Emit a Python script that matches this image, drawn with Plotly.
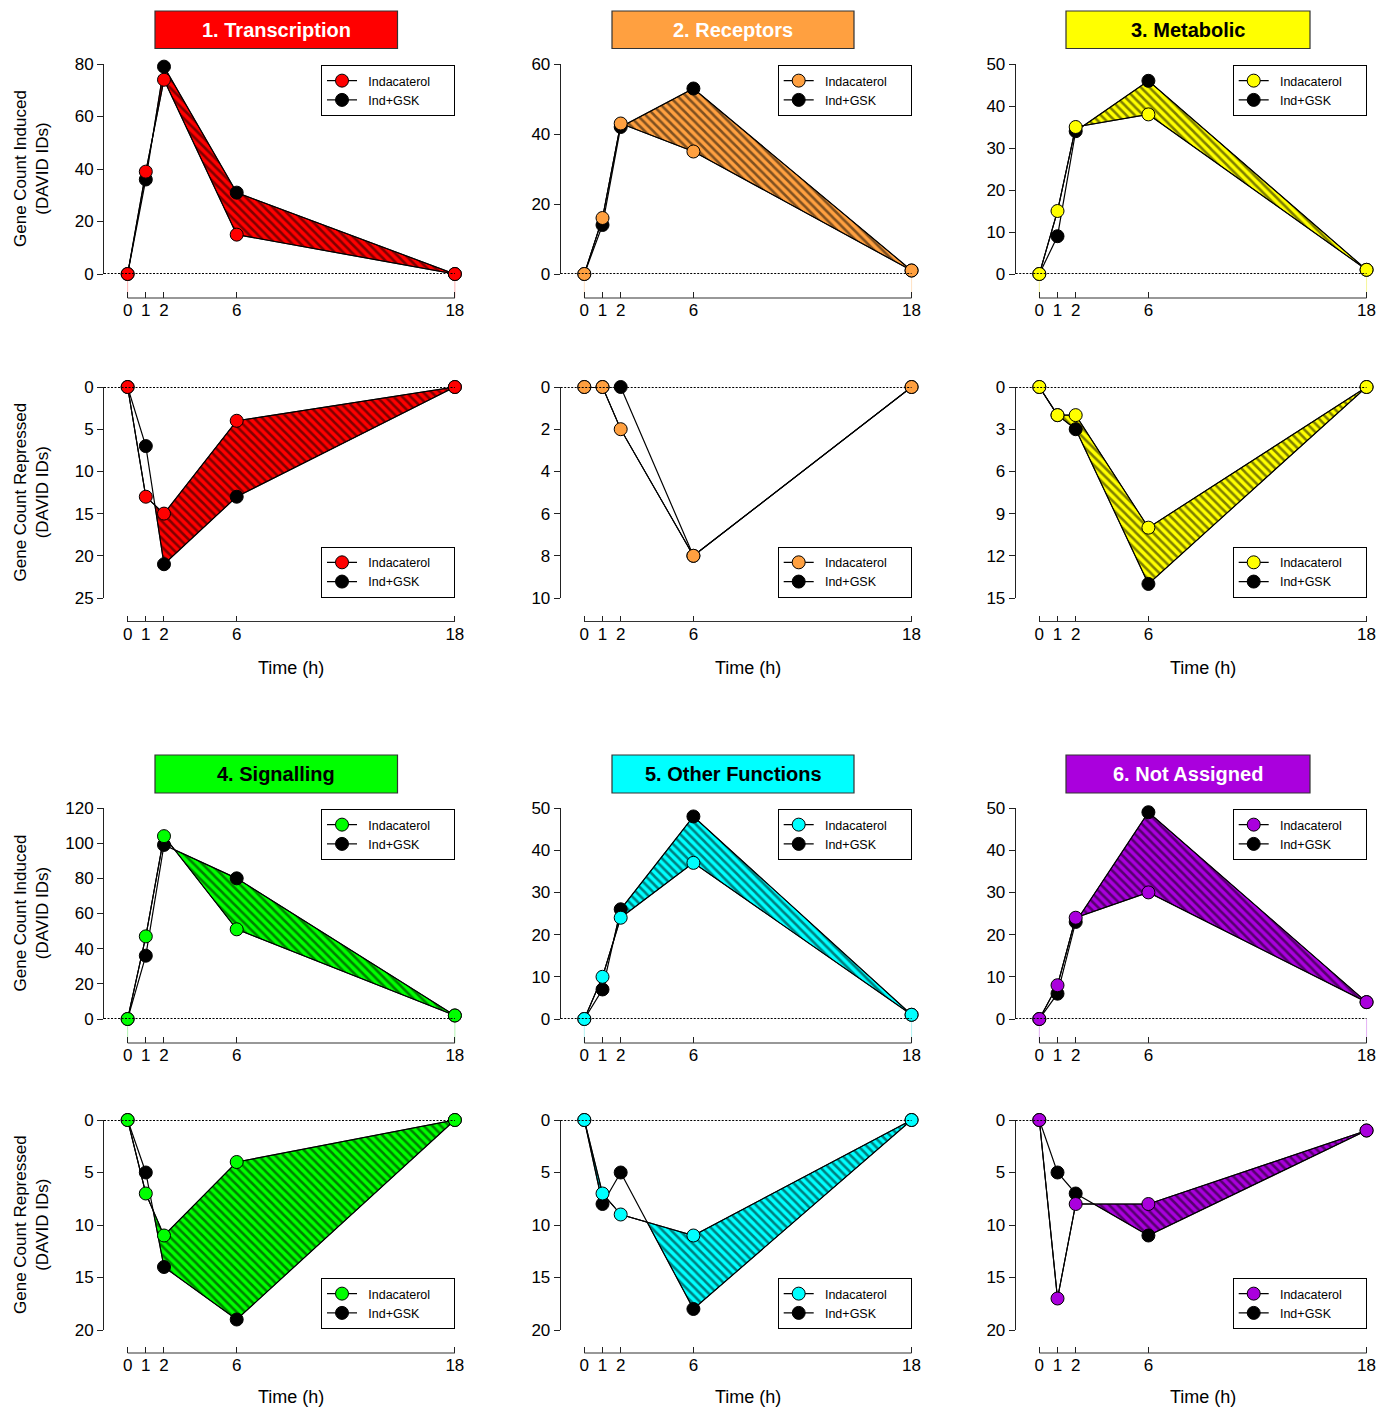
import plotly.graph_objects as go

# ---------------- data ----------------
time_h = [0, 1, 2, 6, 18]
categories = ["1. Transcription", "2. Receptors", "3. Metabolic",
              "4. Signalling", "5. Other Functions", "6. Not Assigned"]
cat_colors = ["#FF0000", "#FFA040", "#FFFF00", "#00FF00", "#00FFFF", "#AA00DD"]
cat_tints = ["rgba(255,0,0,0.3)", "rgba(255,160,64,0.3)", "rgba(230,230,0,0.4)",
             "rgba(0,220,0,0.3)", "rgba(0,220,220,0.3)", "rgba(170,0,221,0.3)"]
title_text_colors = ["white", "white", "black", "black", "black", "white"]
series_names = ["Indacaterol", "Ind+GSK"]

induced_indacaterol = [
    [0, 39, 74, 15, 0],
    [0, 16, 43, 35, 1],
    [0, 15, 35, 38, 1],
    [0, 47, 104, 51, 2],
    [0, 10, 24, 37, 1],
    [0, 8, 24, 30, 4],
]
induced_indgsk = [
    [0, 36, 79, 31, 0],
    [0, 14, 42, 53, 1],
    [0, 9, 34, 46, 1],
    [0, 36, 99, 80, 2],
    [0, 7, 26, 48, 1],
    [0, 6, 23, 49, 4],
]
repressed_indacaterol = [
    [0, 13, 15, 4, 0],
    [0, 0, 2, 8, 0],
    [0, 2, 2, 10, 0],
    [0, 7, 11, 4, 0],
    [0, 7, 9, 11, 0],
    [0, 17, 8, 8, 1],
]
repressed_indgsk = [
    [0, 7, 21, 13, 0],
    [0, 0, 0, 8, 0],
    [0, 2, 3, 14, 0],
    [0, 5, 14, 19, 0],
    [0, 8, 5, 18, 0],
    [0, 5, 7, 11, 1],
]
induced_yticks = [
    [0, 20, 40, 60, 80],
    [0, 20, 40, 60],
    [0, 10, 20, 30, 40, 50],
    [0, 20, 40, 60, 80, 100, 120],
    [0, 10, 20, 30, 40, 50],
    [0, 10, 20, 30, 40, 50],
]
repressed_yticks = [
    [0, 5, 10, 15, 20, 25],
    [0, 2, 4, 6, 8, 10],
    [0, 3, 6, 9, 12, 15],
    [0, 5, 10, 15, 20],
    [0, 5, 10, 15, 20],
    [0, 5, 10, 15, 20],
]
ylabel_induced = "Gene Count Induced<br>(DAVID IDs)"
ylabel_repressed = "Gene Count Repressed<br>(DAVID IDs)"
xlabel = "Time (h)"

# ---------------- layout geometry (page pixels) ----------------
PAGE_W, PAGE_H = 1392, 1410
OFF = 8  # default page body margin
W, H = PAGE_W - OFF, PAGE_H - OFF
FONT = "Liberation Sans Narrow, Arial Narrow, Liberation Sans, Arial, sans-serif"
XRANGE = [-1.3, 18.3]
col_left = [104, 560.7, 1015.7]
unit = 18.18
col_width = (XRANGE[1] - XRANGE[0]) * unit
row_dom = [(64, 274), (387, 598), (808, 1019), (1120, 1330)]
row_xaxis = [298, 621.5, 1043, 1353]
title_rows = [(11, 48.5), (755, 793)]
title_cols = [(155, 397.5), (612, 854), (1066, 1310)]
legend_right = [455, 911.7, 1366.7]


def fx(p):
    return (p - OFF) / W


def fy(p):
    return 1 - (p - OFF) / H


def fill_polygon(x, red, black):
    xs, up, lo = [x[0]], [max(red[0], black[0])], [red[0]]
    for i in range(len(x) - 1):
        d0 = black[i] - red[i]
        d1 = black[i + 1] - red[i + 1]
        if d0 * d1 < 0:
            t = d0 / (d0 - d1)
            xc = x[i] + t * (x[i + 1] - x[i])
            yc = red[i] + t * (red[i + 1] - red[i])
            xs.append(xc); up.append(yc); lo.append(yc)
        xs.append(x[i + 1]); up.append(max(red[i + 1], black[i + 1])); lo.append(red[i + 1])
    return xs + xs[::-1], up + lo[::-1]


fig = go.Figure()
shapes = []
annotations = []
layout = {}

for c in range(6):
    col = c % 3
    block = c // 3
    color = cat_colors[c]
    for kind in range(2):
        row = block * 2 + kind
        n = row * 3 + col + 1
        xa = "x" if n == 1 else f"x{n}"
        ya = "y" if n == 1 else f"y{n}"
        lg = "legend" if n == 1 else f"legend{n}"
        if kind == 0:
            red = induced_indacaterol[c]; black = induced_indgsk[c]; ticks = induced_yticks[c]
            yrange = [ticks[0], ticks[-1]]
        else:
            red = repressed_indacaterol[c]; black = repressed_indgsk[c]; ticks = repressed_yticks[c]
            yrange = [ticks[-1], ticks[0]]

        # hatched fill where Ind+GSK exceeds Indacaterol
        px, py = fill_polygon(time_h, red, black)
        fig.add_trace(go.Scatter(
            x=px, y=py, xaxis=xa, yaxis=ya, mode="lines", fill="toself",
            fillcolor=color, line=dict(color="black", width=0.8),
            fillpattern=dict(shape="\\", fgcolor="black", bgcolor=color, size=6, solidity=0.42),
            showlegend=False, hoverinfo="skip"))
        # Ind+GSK (drawn below)
        fig.add_trace(go.Scatter(
            x=time_h, y=black, xaxis=xa, yaxis=ya, mode="lines+markers",
            name="\u2002" + series_names[1] + "\u2002\u2002\u2002", legend=lg, legendrank=2,
            line=dict(color="black", width=1.2),
            marker=dict(color="black", size=13, line=dict(color="black", width=1)),
            cliponaxis=False))
        # Indacaterol (drawn on top)
        fig.add_trace(go.Scatter(
            x=time_h, y=red, xaxis=xa, yaxis=ya, mode="lines+markers",
            name="\u2002" + series_names[0] + "\u2002\u2002\u2002", legend=lg, legendrank=1,
            line=dict(color="black", width=1.2),
            marker=dict(color=color, size=13, line=dict(color="black", width=1)),
            cliponaxis=False))

        top, bot = row_dom[row]
        left = col_left[col]
        xpos = fy(row_xaxis[row])
        layout["xaxis" if n == 1 else f"xaxis{n}"] = dict(
            domain=[fx(left), fx(left + col_width)], range=XRANGE, automargin=False,
            anchor="free", position=xpos, showline=False, showgrid=False, zeroline=False,
            tickmode="array", tickvals=time_h, ticks="inside", ticklen=6, tickwidth=1,
            tickcolor="#222", tickfont=dict(family=FONT, size=17, color="black"))
        layout["yaxis" if n == 1 else f"yaxis{n}"] = dict(
            domain=[fy(bot), fy(top)], range=yrange, anchor=xa, automargin=False,
            showline=True, linecolor="#222", linewidth=1, showgrid=False, zeroline=False,
            tickmode="array", tickvals=ticks, ticks="outside", ticklen=6, tickwidth=1,
            tickcolor="#222", tickfont=dict(family=FONT, size=17, color="black"))
        # dotted zero line
        shapes.append(dict(type="line", xref=xa, yref=ya, x0=XRANGE[0], x1=time_h[-1], y0=0, y1=0,
                           line=dict(color="black", width=2, dash="2px,1.5px")))
        # offset x axis line spanning first to last time point
        shapes.append(dict(type="line", xref=xa, yref="paper", x0=time_h[0], x1=time_h[-1],
                           y0=xpos, y1=xpos, line=dict(color="#333", width=1.2)))
        # faint drop lines at first/last time point (induced panels)
        if kind == 0:
            for tx in (time_h[0], time_h[-1]):
                shapes.append(dict(type="line", xref=xa, yref="paper", x0=tx, x1=tx,
                                   y0=xpos, y1=fy(bot), line=dict(color=cat_tints[c], width=1),
                                   layer="below"))
        # legend
        if kind == 0:
            ly, yanc = fy(65 if row == 0 else 809), "top"
        else:
            ly, yanc = fy(597.7 if row == 1 else 1329), "bottom"
        layout[lg] = dict(
            x=fx(legend_right[col]), xanchor="right", y=ly, yanchor=yanc,
            bgcolor="white", bordercolor="black", borderwidth=1,
            font=dict(family=FONT, size=12.5, color="black"), traceorder="normal",
            tracegroupgap=0)
        # y-axis labels in first column
        if col == 0:
            annotations.append(dict(
                text=ylabel_induced if kind == 0 else ylabel_repressed,
                xref="paper", yref="paper", x=fx(31), y=fy((top + bot) / 2),
                textangle=-90, showarrow=False, xanchor="center", yanchor="middle",
                font=dict(family=FONT, size=17, color="black")))
        if kind == 1:
            annotations.append(dict(
                text=xlabel, xref=xa, yref="paper", x=9, y=fy(668 if row == 1 else 1397),
                showarrow=False, xanchor="center", yanchor="middle",
                font=dict(family=FONT, size=18, color="black")))

    # title box
    tx0, tx1 = title_cols[col]
    ty0, ty1 = title_rows[block]
    shapes.append(dict(type="rect", xref="paper", yref="paper", x0=fx(tx0), x1=fx(tx1),
                       y0=fy(ty1), y1=fy(ty0), fillcolor=color,
                       line=dict(color="#333", width=1.2), layer="above"))
    annotations.append(dict(
        text=f"<b>{categories[c]}</b>", xref="paper", yref="paper",
        x=fx((tx0 + tx1) / 2), y=fy((ty0 + ty1) / 2), showarrow=False,
        xanchor="center", yanchor="middle",
        font=dict(family=FONT, size=20, color=title_text_colors[c])))

fig.update_layout(**layout)
fig.update_layout(
    width=W, height=H, margin=dict(l=0, r=0, t=0, b=0, pad=0, autoexpand=False),
    paper_bgcolor="white", plot_bgcolor="white",
    shapes=shapes, annotations=annotations, showlegend=True)

fig.write_html("out.html")
